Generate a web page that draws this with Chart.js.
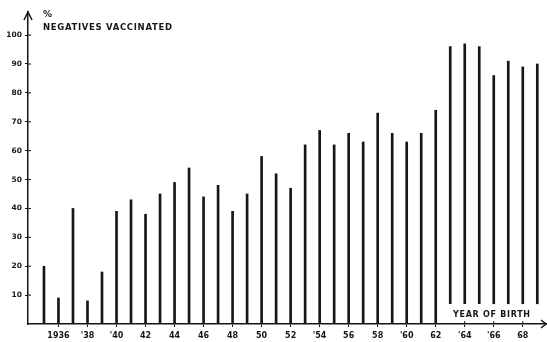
<!DOCTYPE html>
<html>
<head>
<meta charset="utf-8">
<script src="https://cdn.jsdelivr.net/npm/chart.js@4/dist/chart.umd.min.js"></script>
<style>
html,body{margin:0;padding:0;background:#fff;}
#wrap{width:547px;height:342px;position:relative;}
</style>
</head>
<body>
<div id="wrap"><canvas id="c" width="547" height="342"></canvas></div>
<script>
// ---- data ----
const years = [1935,1936,1937,1938,1939,1940,1941,1942,1943,1944,1945,1946,1947,1948,1949,
               1950,1951,1952,1953,1954,1955,1956,1957,1958,1959,1960,1961,1962,1963,1964,
               1965,1966,1967,1968,1969];
const vaccinatedPct = [20,9,40,8,18,39,43,38,45,49,54,44,48,39,45,
                       58,52,47,62,67,62,66,63,73,66,63,66,74,96,97,
                       96,86,91,89,90];
const yTickValues = [10,20,30,40,50,60,70,80,90,100];
const xTickYears = [1936,1938,1940,1942,1944,1946,1948,1950,1952,1954,1956,1958,1960,1962,1964,1966,1968];
const xTickLabels = ['1936',"'38","'40",'42','44','46','48','50','52',"'54",'56','58',"'60",'62',"'64","'66",'68'];
const unitLabel = '%';
const seriesLabel = 'NEGATIVES VACCINATED';
const xAxisLabel = 'YEAR OF BIRTH';

// bars from this year on are interrupted at the bottom to leave room for the axis caption
const BREAK_FROM_YEAR = 1963;
const BREAK_LEVEL = 7;

const INK = '#161616';
const FONT = 'DejaVu Sans';

const decor = {
  id: 'decor',
  afterDraw(chart) {
    const ctx = chart.ctx;
    const a = chart.chartArea;
    const xs = chart.scales.x, ys = chart.scales.y;
    ctx.save();
    ctx.strokeStyle = INK;
    ctx.fillStyle = INK;
    ctx.lineWidth = 1.5;
    // arrow heads
    ctx.beginPath();
    ctx.moveTo(a.left - 4, a.top + 8); ctx.lineTo(a.left, a.top); ctx.lineTo(a.left + 4, a.top + 8);
    ctx.stroke();
    ctx.beginPath();
    ctx.moveTo(a.right - 5, a.bottom - 4); ctx.lineTo(a.right, a.bottom); ctx.lineTo(a.right - 5, a.bottom + 4);
    ctx.stroke();
    // inward halves of tick crosses
    ctx.lineWidth = 1;
    yTickValues.forEach(v => {
      const py = ys.getPixelForValue(v);
      ctx.beginPath(); ctx.moveTo(a.left, py); ctx.lineTo(a.left + 3, py); ctx.stroke();
    });
    xTickYears.forEach(v => {
      const px = xs.getPixelForValue(v);
      ctx.beginPath(); ctx.moveTo(px, a.bottom); ctx.lineTo(px, a.bottom - 3); ctx.stroke();
    });
    // texts
    ctx.textBaseline = 'middle';
    ctx.textAlign = 'left';
    ctx.font = 'bold 9px "' + FONT + '"';
    ctx.fillText(unitLabel, a.left + 15, 15);
    ctx.font = 'bold 8.5px "' + FONT + '"';
    let w = ctx.measureText(seriesLabel).width;
    ctx.letterSpacing = Math.max(0, (129 - w) / (seriesLabel.length - 1)) + 'px';
    ctx.fillText(seriesLabel, a.left + 15, 27.5);
    ctx.letterSpacing = '0px';
    ctx.font = 'bold 8px "' + FONT + '"';
    w = ctx.measureText(xAxisLabel).width;
    ctx.letterSpacing = Math.max(0, (77 - w) / (xAxisLabel.length - 1)) + 'px';
    ctx.fillText(xAxisLabel, 453, 314.5);
    ctx.restore();
  }
};

new Chart(document.getElementById('c'), {
  type: 'bar',
  data: {
    datasets: [{
      data: years.map((yr, i) => ({ x: yr, y: [yr >= BREAK_FROM_YEAR ? BREAK_LEVEL : 0, vaccinatedPct[i]] })),
      backgroundColor: INK,
      borderWidth: 0,
      barThickness: 2
    }]
  },
  options: {
    responsive: false,
    animation: false,
    devicePixelRatio: 1,
    layout: { padding: { top: 12, right: 1, left: 0, bottom: 0 } },
    plugins: { legend: { display: false }, tooltip: { enabled: false } },
    scales: {
      x: {
        type: 'linear',
        offset: false,
        min: 1933.9,
        max: 1969.6,
        afterBuildTicks: s => { s.ticks = xTickYears.map(v => ({ value: v })); },
        afterFit: s => { s.height = 18; },
        ticks: {
          autoSkip: false, maxRotation: 0, minRotation: 0,
          padding: 4, color: INK,
          font: { family: FONT, size: 8, weight: 'bold' },
          callback: v => { const k = xTickYears.indexOf(v); return k >= 0 ? xTickLabels[k] : ''; }
        },
        grid: { drawOnChartArea: false, offset: false, tickLength: 3, color: INK, lineWidth: 1 },
        border: { color: INK, width: 1.5 }
      },
      y: {
        min: 0,
        max: 108,
        afterBuildTicks: s => { s.ticks = yTickValues.map(v => ({ value: v })); },
        afterFit: s => { s.width = 28; },
        ticks: {
          padding: 3, color: INK,
          font: { family: FONT, size: 7.5, weight: 'bold' }
        },
        grid: { drawOnChartArea: false, tickLength: 3, color: INK, lineWidth: 1 },
        border: { color: INK, width: 1.5 }
      }
    }
  },
  plugins: [decor]
});
</script>
</body>
</html>
